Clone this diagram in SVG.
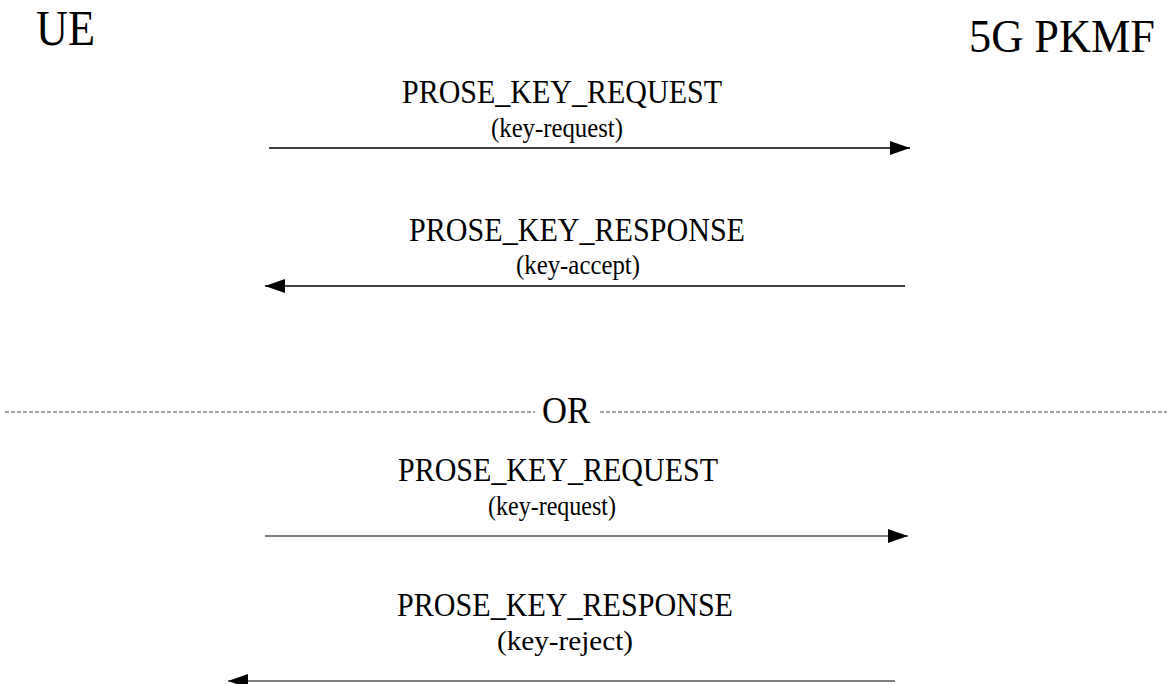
<svg xmlns="http://www.w3.org/2000/svg" width="1167" height="684" viewBox="0 0 1167 684">
<style>
text{font-family:"Liberation Serif","Times New Roman",serif;fill:#000;text-anchor:middle}
.ent{font-size:50px}
.msg{font-size:33px}
.sub{font-size:27px}
.or{font-size:38px}
.ln{stroke:#000;stroke-width:1.5;fill:none}
.ln2{stroke:#555;stroke-width:1.5;fill:none}
.dash{stroke:#444;stroke-width:1;stroke-dasharray:4 2;fill:none}
</style>
<defs>
<marker id="ah" markerWidth="20" markerHeight="14" refX="20" refY="7" orient="auto" markerUnits="userSpaceOnUse">
<path d="M0,0 L20,7 L0,14 Z" fill="#000"/>
</marker>
</defs>
<g id="ue"><text class="ent" x="65.5" y="45" textLength="59" lengthAdjust="spacingAndGlyphs">UE</text></g>
<g id="pkmf"><text x="1062" y="52" style="font-size:46px" textLength="186" lengthAdjust="spacingAndGlyphs">5G PKMF</text></g>
<g id="labels">
<text class="msg" x="562" y="103" textLength="320" lengthAdjust="spacingAndGlyphs">PROSE_KEY_REQUEST</text>
<text class="sub" x="557" y="137" textLength="132" lengthAdjust="spacingAndGlyphs">(key-request)</text>
<text class="msg" x="577" y="241" textLength="336" lengthAdjust="spacingAndGlyphs">PROSE_KEY_RESPONSE</text>
<text class="sub" x="578" y="274" textLength="124" lengthAdjust="spacingAndGlyphs">(key-accept)</text>
<text class="or" x="566" y="423" textLength="48" lengthAdjust="spacingAndGlyphs">OR</text>
<text class="msg" x="558" y="481" textLength="320" lengthAdjust="spacingAndGlyphs">PROSE_KEY_REQUEST</text>
<text class="sub" x="552" y="515" textLength="128" lengthAdjust="spacingAndGlyphs">(key-request)</text>
<text class="msg" x="565" y="616" textLength="336" lengthAdjust="spacingAndGlyphs">PROSE_KEY_RESPONSE</text>
<text class="sub" x="565" y="650" textLength="136" lengthAdjust="spacingAndGlyphs">(key-reject)</text>
</g>
<g id="connectors">
<line class="ln" x1="269" y1="148" x2="910" y2="148" marker-end="url(#ah)"/>
<line class="ln" x1="905" y1="286" x2="265" y2="286" marker-end="url(#ah)"/>
<line class="dash" x1="5" y1="412" x2="535" y2="412"/>
<line class="dash" x1="600" y1="412" x2="1167" y2="412"/>
<line class="ln2" x1="265" y1="536" x2="908" y2="536" marker-end="url(#ah)"/>
<line class="ln2" x1="895" y1="681" x2="228" y2="681" marker-end="url(#ah)"/>
</g>
</svg>
